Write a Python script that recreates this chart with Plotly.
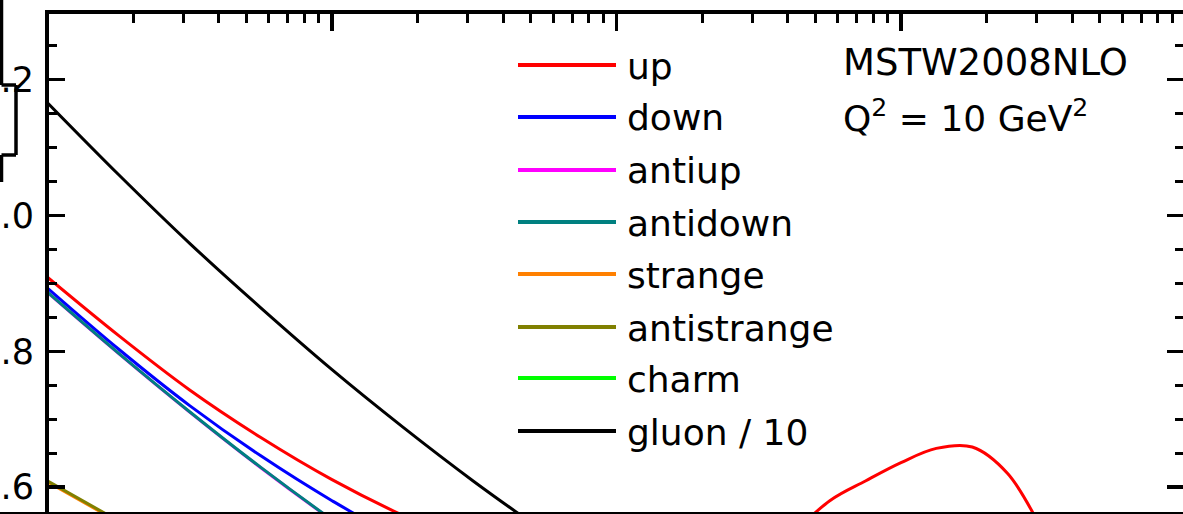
import plotly.graph_objects as go

# ---------------- data ----------------
x_vals = [0.0001, 0.000178, 0.000316, 0.000562, 0.001, 0.00178, 0.00316, 0.00562,
          0.01, 0.0178, 0.0316, 0.0562, 0.075, 0.1, 0.133, 0.178, 0.237, 0.316,
          0.422, 0.562, 0.75, 1.0]

up = [0.909, 0.823, 0.743, 0.673, 0.611, 0.558, 0.513, 0.478, 0.455, 0.450, 0.49,
      0.58, 0.609, 0.636, 0.657, 0.659, 0.62, 0.535, 0.44, 0.32, 0.18, 0.0]
down = [0.893, 0.803, 0.720, 0.646, 0.580, 0.522, 0.48, 0.45, 0.435, 0.425, 0.415,
        0.405, 0.395, 0.38, 0.36, 0.33, 0.28, 0.22, 0.15, 0.09, 0.04, 0.0]
antiup = [0.8865, 0.7965, 0.7105, 0.6285, 0.5515, 0.4795, 0.4195, 0.3695, 0.3195,
          0.2795, 0.2395, 0.1795, 0.1495, 0.1195, 0.0895, 0.0595, 0.0395, 0.0195,
          0.0095, 0.004, 0.001, 0.0]
antidown = [0.887, 0.797, 0.711, 0.629, 0.552, 0.48, 0.42, 0.37, 0.32, 0.28, 0.24,
            0.18, 0.15, 0.12, 0.09, 0.06, 0.04, 0.02, 0.01, 0.004, 0.001, 0.0]
strange = [0.6075, 0.5485, 0.4885, 0.4285, 0.3785, 0.3285, 0.2885, 0.2485, 0.2085, 0.1685,
           0.1285, 0.0885, 0.0685, 0.0485, 0.0335, 0.0195, 0.0115, 0.0055, 0.002, 0.001, 0.0, 0.0]
antistrange = [0.609, 0.55, 0.49, 0.43, 0.38, 0.33, 0.29, 0.25, 0.21, 0.17, 0.13,
               0.09, 0.07, 0.05, 0.035, 0.02, 0.012, 0.006, 0.002, 0.001, 0.0, 0.0]
charm = [0.50, 0.45, 0.40, 0.35, 0.31, 0.27, 0.23, 0.19, 0.16, 0.13, 0.10, 0.07,
         0.055, 0.04, 0.028, 0.018, 0.01, 0.005, 0.002, 0.001, 0.0, 0.0]
gluon_over_10 = [1.166, 1.060, 0.959, 0.864, 0.773, 0.688, 0.608, 0.533, 0.46, 0.39,
                 0.32, 0.25, 0.215, 0.18, 0.145, 0.11, 0.08, 0.055, 0.033, 0.016, 0.005, 0.0]

series_names = ["up", "down", "antiup", "antidown", "strange", "antistrange", "charm", "gluon / 10"]
series_values = [up, down, antiup, antidown, strange, antistrange, charm, gluon_over_10]
series_colors = ["#FF0000", "#0000FF", "#FF00FF", "#008080", "#FF8000", "#808000", "#00FF00", "#000000"]

y_tick_vals = [0.6, 0.8, 1.0, 1.2]
y_tick_text = ["0.6", "0.8", "1.0", "1.2"]
x_major = [1e-4, 1e-3, 1e-2, 1e-1, 1.0]
x_minor = [m * d for d in [1e-4, 1e-3, 1e-2, 1e-1] for m in range(2, 10)]

pdf_set = "MSTW2008NLO"
scale_text = "Q<sup>2</sup> = 10 GeV<sup>2</sup>"

# ---------------- layout helpers ----------------
OFF = 0                      # body margin removed by post_script below
SW, SH = 1183, 514           # screen size
W, H = SW - OFF, SH - OFF    # figure size
L, T = 49 - OFF, 14 - OFF    # plot area starts at screen (49, 14)
PW, PH = W - L, H - T
FONT = "DejaVu Sans"


def px(sx):
    return (sx - OFF - L) / PW


def py(sy):
    return (H - (sy - OFF)) / PH


fig = go.Figure()
for name, vals, col in zip(series_names, series_values, series_colors):
    fig.add_trace(go.Scatter(x=x_vals, y=vals, mode="lines", name=name,
                             line=dict(color=col, width=3, shape="spline", smoothing=1.0),
                             showlegend=False, hoverinfo="skip"))

shapes = []
annotations = []
# legend drawn by hand (long sample lines)
row_y = [65, 117, 170, 222, 274, 327, 378, 431]
for name, col, ry in zip(series_names, series_colors, row_y):
    shapes.append(dict(type="line", xref="paper", yref="paper", x0=px(518), x1=px(616),
                       y0=py(ry), y1=py(ry), line=dict(color=col, width=4)))
    annotations.append(dict(xref="paper", yref="paper", x=px(625), y=py(ry + 1), text=name,
                            showarrow=False, xanchor="left", yanchor="middle",
                            font=dict(family=FONT, size=36, color="black")))

annotations.append(dict(xref="paper", yref="paper", x=px(841), y=py(63), text=pdf_set,
                        showarrow=False, xanchor="left", yanchor="middle",
                        font=dict(family=FONT, size=37, color="black")))
annotations.append(dict(xref="paper", yref="paper", x=px(841), y=py(116), text=scale_text,
                        showarrow=False, xanchor="left", yanchor="middle",
                        font=dict(family=FONT, size=36, color="black")))

# bottom edge line
shapes.append(dict(type="line", xref="paper", yref="paper", x0=px(0), x1=1.0, y0=py(513), y1=py(513),
                   line=dict(color="black", width=2)))
# partial frame visible at the far left
box_pts = [(1.5, 0), (1.5, 85), (16, 85), (16, 155), (1.5, 155), (1.5, 182)]
for (xa, ya), (xb, yb) in zip(box_pts[:-1], box_pts[1:]):
    shapes.append(dict(type="line", xref="paper", yref="paper", x0=px(xa), x1=px(xb),
                       y0=py(ya), y1=py(yb), line=dict(color="black", width=3.5)))

x_left = -4 + (49 - 47.5) / 284.5
x_right = -4 + (SW - 47.5) / 284.5
y_top = 1.0 + (215.5 - 14) / 679
y_bot = 1.0 - (SH - 215.5) / 679

fig.update_layout(
    width=W, height=H,
    margin=dict(l=L, r=0, t=T, b=0, pad=0, autoexpand=False),
    paper_bgcolor="white", plot_bgcolor="white",
    showlegend=False,
    shapes=shapes, annotations=annotations,
    xaxis=dict(type="log", range=[x_left, x_right], side="top", showgrid=False, zeroline=False,
               automargin=False,
               showline=True, linecolor="black", linewidth=4, mirror=False,
               tickmode="array", tickvals=x_major, ticks="inside", ticklen=17, tickwidth=3.5,
               tickcolor="black", showticklabels=False,
               minor=dict(tickmode="array", tickvals=x_minor, ticks="inside", ticklen=9,
                          tickwidth=3, tickcolor="black", showgrid=False)),
    yaxis=dict(range=[y_bot, y_top], showgrid=False, zeroline=False, automargin=False,
               showline=True, linecolor="black", linewidth=4, mirror="ticks",
               tickmode="array", tickvals=y_tick_vals, ticktext=y_tick_text,
               ticks="inside", ticklen=16, tickwidth=3.5, tickcolor="black",
               ticklabelstandoff=4,
               tickfont=dict(family=FONT, size=35, color="black"),
               minor=dict(dtick=0.05, tick0=0, ticks="inside", ticklen=8, tickwidth=3,
                          tickcolor="black", showgrid=False)),
)

fig.write_html("out.html",
               config={"displayModeBar": False, "staticPlot": True},
               post_script="document.body.style.margin='0';document.body.style.overflow='hidden';")
